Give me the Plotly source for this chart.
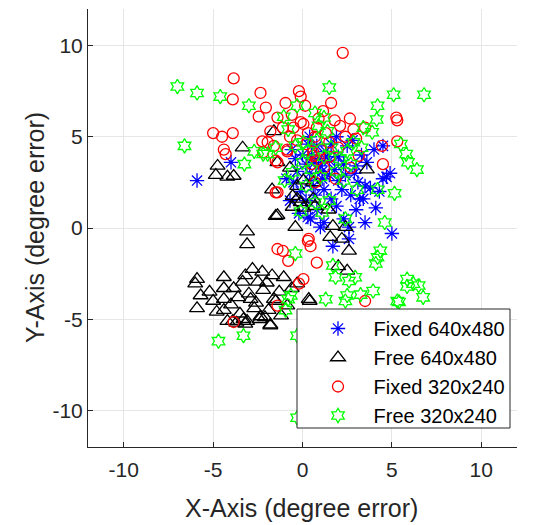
import plotly.graph_objects as go

# Fixed 640x480 (blue asterisks)
fixed640_x = [-5.9, -4.0, -0.9, -0.5, -0.3, -0.1, 0.2, 0.4, 0.45, 0.8, 1.0, 1.2, 1.6, 1.7, 2.2, 2.6, 2.6, 2.9, 3.0, 3.1,
              3.4, 4.1, 4.5, 4.9, 4.5, 4.0, 2.5, 5.0, 1.0, 0.5, 0.8, 1.3, 1.5, 1.8, 2.0, 2.3, 0.3, 0.0, -0.4, 1.1,
              1.5, 0.6, 2.0, 2.7, 3.6, 3.3, 3.8, 1.9, 0.2, -0.2, 2.3, 3.5, 1.2, 4.3, 2.8, 0.9, 1.6, -0.6, 0.4, 1.9,
              2.4, 3.0, 0.7, -0.7, 3.2, 4.7, 3.5, 0.3, 0.7, 1.1, 0.4, 1.4]
fixed640_y = [2.6, 3.6, 2.7, 2.5, 3.1, 2.0, 3.5, 3.0, 0.5, 1.0, 0.05, 2.1, 1.6, -1.0, 2.1, 0.05, -0.6, 3.0, 1.0, 2.5,
              1.6, 1.1, 2.7, 3.0, 4.5, 4.3, 4.5, -0.3, 3.4, 4.0, 4.5, 4.2, 3.7, 3.2, 3.9, 3.5, 4.6, 4.0, 3.8, 2.7,
              2.9, 2.3, 2.6, 1.8, 3.6, 4.0, 2.2, 1.2, 1.5, 0.8, 0.5, 0.3, 0.3, 2.0, 4.8, 3.8, 4.6, 4.3, 5.0, 5.0,
              2.9, 3.4, 1.8, 1.5, 1.6, 2.8, 2.3, 0.6, 3.6, 3.1, 2.6, 3.9]

# Free 640x480 (black triangles)
free640_x = [-1.6, -3.35, -4.75, -4.85, -4.2, -3.85, -1.4, -1.7, -0.7, -0.3, -0.55, -1.4, -0.1, 0.05, 0.6, -0.55,
             -0.3, 0.6, 0.05, 0.7, 1.45, -1.5, -0.4, 2.4, 1.7, 1.55, 2.2, 2.6, 2.0, 2.5, -0.3, 0.4, 3.6,
             -3.1, -3.1, -5.9, -6.0, -5.7, -5.9, -4.4, -4.4, -5.0, -4.4, -4.4, -3.85, -3.9, -3.35, -3.3, -3.1,
             -2.8, -2.9, -2.7, -2.25, -2.5, -2.2, -2.35, -1.8, -1.7, -1.6, -1.05, -0.85, 0.35,
             -5.2, -4.8, -4.0, -3.6, -3.5, -3.0, -2.6, -2.0, -1.9, -1.3, -1.2, -0.6, -3.2, -2.4, -4.2, -3.7,
             -3.2, -1.8, -1.5, -2.1]
free640_y = [5.3, 4.4, 3.4, 2.9, 2.8, 2.85, 3.6, 2.1, 3.3, 2.3, 1.15, 0.7, 1.4, 2.6, 2.5, 1.75,
             1.6, 1.6, 1.1, 1.2, 1.0, 0.65, 0.05, 0.05, 0.1, -0.5, -0.6, -1.25, -2.1, -2.35, -3.05, -4.0, 3.2,
             -0.2, -0.9, -2.8, -3.05, -3.7, -4.4, -2.7, -3.3, -4.0, -3.9, -4.5, -3.3, -5.1, -2.95, -5.0, -5.1,
             -2.25, -3.9, -4.4, -2.4, -2.95, -3.4, -4.85, -5.3, -2.6, -3.9, -2.7, -4.25, -3.9,
             -3.5, -4.6, -4.2, -3.8, -4.7, -3.6, -4.1, -3.0, -4.5, -3.5, -4.8, -3.3, -2.6, -5.0, -5.1, -5.2,
             -5.25, -5.35, -4.0, -4.9]

# Fixed 320x240 (red circles)
fixed320_x = [-3.85, -3.9, -2.35, -2.05, -2.45, -0.95, -0.2, -0.1, -1.4, -5.0, -4.5, -3.9, -4.4, -4.3, -2.25,
              -1.95, -2.2, -1.5, -0.85, -0.7, -0.1, -1.4, 2.25, 1.6, 0.15, 1.15, 2.65, 2.1, 2.85, 3.5, 5.25, 5.3,
              5.3, 4.45, 3.15, 4.5, 1.85, 0.7, 0.6, 0.7, 0.05, 0.35, 0.45, 0.8, 0.05, -0.2, 3.5, -1.4, -1.1,
              -0.8, -1.4, -3.85, 0.3, -1.5, -1.4, 0.8, 0.6, -0.85, -1.6, -0.5, 0.3, 0.8, 1.3, 1.8, 2.4, 0.2,
              1.0, 1.5, -0.3, 0.5, 1.2, 2.0, -1.1, -1.8, -0.6, 0.9, 3.0, 2.7, 1.5]
fixed320_y = [8.2, 7.05, 7.4, 6.6, 6.1, 6.85, 7.5, 7.2, 6.05, 5.2, 5.0, 5.2, 4.3, 4.05, 4.75,
              4.7, 4.15, 3.7, 4.2, 5.0, 5.8, 1.95, 9.6, 6.85, 6.7, 6.4, 6.0, 5.6, 5.4, 5.5, 6.05, 5.9,
              4.75, 4.5, 3.95, 3.5, 2.7, 2.5, 3.95, 5.0, 5.7, -0.6, -1.0, -1.9, -2.8, -3.05, -4.0, -1.15, -1.25,
              -1.8, -4.25, -5.15, -0.7, 1.95, 3.6, 3.7, 4.15, 4.3, 4.5, 5.5, 5.2, 5.5, 5.2, 5.9, 5.0, 4.6,
              4.3, 4.7, 4.8, 3.5, 3.3, 4.4, 5.5, 5.3, 6.2, 6.0, 4.9, 3.3, 3.9]

# Free 320x240 (green hexagrams)
free320_x = [-7.0, -5.9, -4.6, -3.0, -1.05, -6.6, -3.25, -2.2, -1.95, -0.55, -0.3, 0.05, 1.5, 5.1, 6.8, 4.2,
             4.15, 3.9, 2.85, 5.5, 5.8, 5.9, 6.4, 4.2, 5.15, 3.05, 2.4, 4.6, 0.7, 1.2, 3.4, 4.35, 4.2, 4.1,
             -0.4, 1.7, 1.85, 2.6, 2.95, 1.3, 2.5, 2.4, 3.25, 3.95, 5.85, 5.85, 6.2, 6.5, 6.75, 5.3, 5.4,
             -0.8, -0.95, -0.65, -4.7, -3.3, -0.3, -0.3, -2.7, 1.1,
             0.3, 0.8, 1.2, 1.6, 2.1, 0.5, 1.0, 1.9, 2.5, 0.0, -0.4, 1.4, 0.9, 2.3, 0.2, 1.5, -1.0, 0.7,
             2.7, 3.3, -0.1, -1.5, -0.8]
free320_y = [7.75, 7.4, 7.2, 6.7, 6.1, 4.5, 3.5, 4.05, 4.05, 3.05, 6.7, 4.7, 7.7, 7.3, 7.3, 6.7,
             5.95, 5.25, 4.7, 4.6, 4.05, 3.6, 3.2, 2.1, 1.9, 2.1, 0.5, 0.3, 6.3, 6.05, 5.5, -1.25, -1.6, -1.95,
             -1.4, -2.05, -2.7, -2.9, -2.7, -3.9, -3.7, -4.0, -3.65, -3.45, -2.8, -3.2, -3.05, -3.15, -3.8, -4.0, -4.05,
             -3.9, -4.5, -3.7, -6.2, -5.9, -10.4, -5.9, 4.2, 0.85,
             4.2, 4.8, 3.9, 4.4, 3.8, 3.2, 2.8, 3.1, 4.2, 3.6, 4.5, 5.3, 5.6, 2.6, 2.3, 1.5, 2.6, 1.4,
             3.5, 4.4, 0.9, 4.4, 5.4]

series_names = ["Fixed 640x480", "Free 640x480", "Fixed 320x240", "Free 320x240"]
x_ticks = [-10, -5, 0, 5, 10]
y_ticks = [-10, -5, 0, 5, 10]
x_ticktext = ["-10", "-5", "0", "5", "10"]
y_ticktext = ["-10", "-5", "0", "5", "10"]
x_title = "X-Axis (degree error)"
y_title = "Y-Axis (degree error)"

FONT = "Liberation Sans, Arial, Helvetica, sans-serif"
TXT = "#262626"

fig = go.Figure()
styles = [
    (fixed640_x, fixed640_y, "asterisk-open", "#0000ff", 12),
    (free640_x, free640_y, "triangle-up-open", "#000000", 13),
    (fixed320_x, fixed320_y, "circle-open", "#ff0000", 11),
    (free320_x, free320_y, "hexagram-open", "#00ff00", 11),
]
for name, (xs, ys, sym, col, sz) in zip(series_names, styles):
    fig.add_trace(go.Scatter(
        x=xs, y=ys, mode="markers", name=name,
        marker=dict(symbol=sym, size=sz, color=col, line=dict(color=col, width=1.3)),
    ))

axis_common = dict(
    range=[-12, 12], showgrid=True, gridcolor="#e6e6e6", gridwidth=1,
    zeroline=False, showline=True, linecolor=TXT, linewidth=1,
    ticks="inside", ticklen=5, tickcolor=TXT,
    tickfont=dict(family=FONT, size=21, color=TXT),
    mirror=False,
)
fig.update_xaxes(**axis_common, tickvals=x_ticks, ticktext=x_ticktext, ticklabelstandoff=4)
fig.update_yaxes(**axis_common, tickvals=y_ticks, ticktext=y_ticktext, ticklabelstandoff=0)

# legend frame (white box above the markers)
fig.add_shape(type="rect", xref="paper", yref="paper",
              x0=(297 - 88) / 429, x1=(510 - 88) / 429,
              y0=(447 - 428) / 438, y1=(447 - 309) / 438,
              line=dict(color=TXT, width=1), fillcolor="white", layer="above")

fig.add_annotation(text=x_title, xref="paper", yref="paper", x=0.497, y=0,
                   xanchor="center", yanchor="middle", yshift=-61, showarrow=False,
                   font=dict(family=FONT, size=25, color=TXT))
fig.add_annotation(text=y_title, xref="paper", yref="paper", x=0, y=0.5,
                   xanchor="center", yanchor="middle", xshift=-53, textangle=-90, showarrow=False,
                   font=dict(family=FONT, size=25, color=TXT))

fig.update_layout(
    width=535, height=525,
    margin=dict(l=88, r=18, t=9, b=78),
    plot_bgcolor="white", paper_bgcolor="white",
    legend=dict(x=(302.5 - 88) / 429, y=(447 - 309) / 438, xanchor="left", yanchor="top",
                bgcolor="rgba(0,0,0,0)", borderwidth=0,
                font=dict(family=FONT, size=20, color="#000000"),
                itemwidth=61, tracegroupgap=0),
    showlegend=True,
)

fig.write_html("out.html")
